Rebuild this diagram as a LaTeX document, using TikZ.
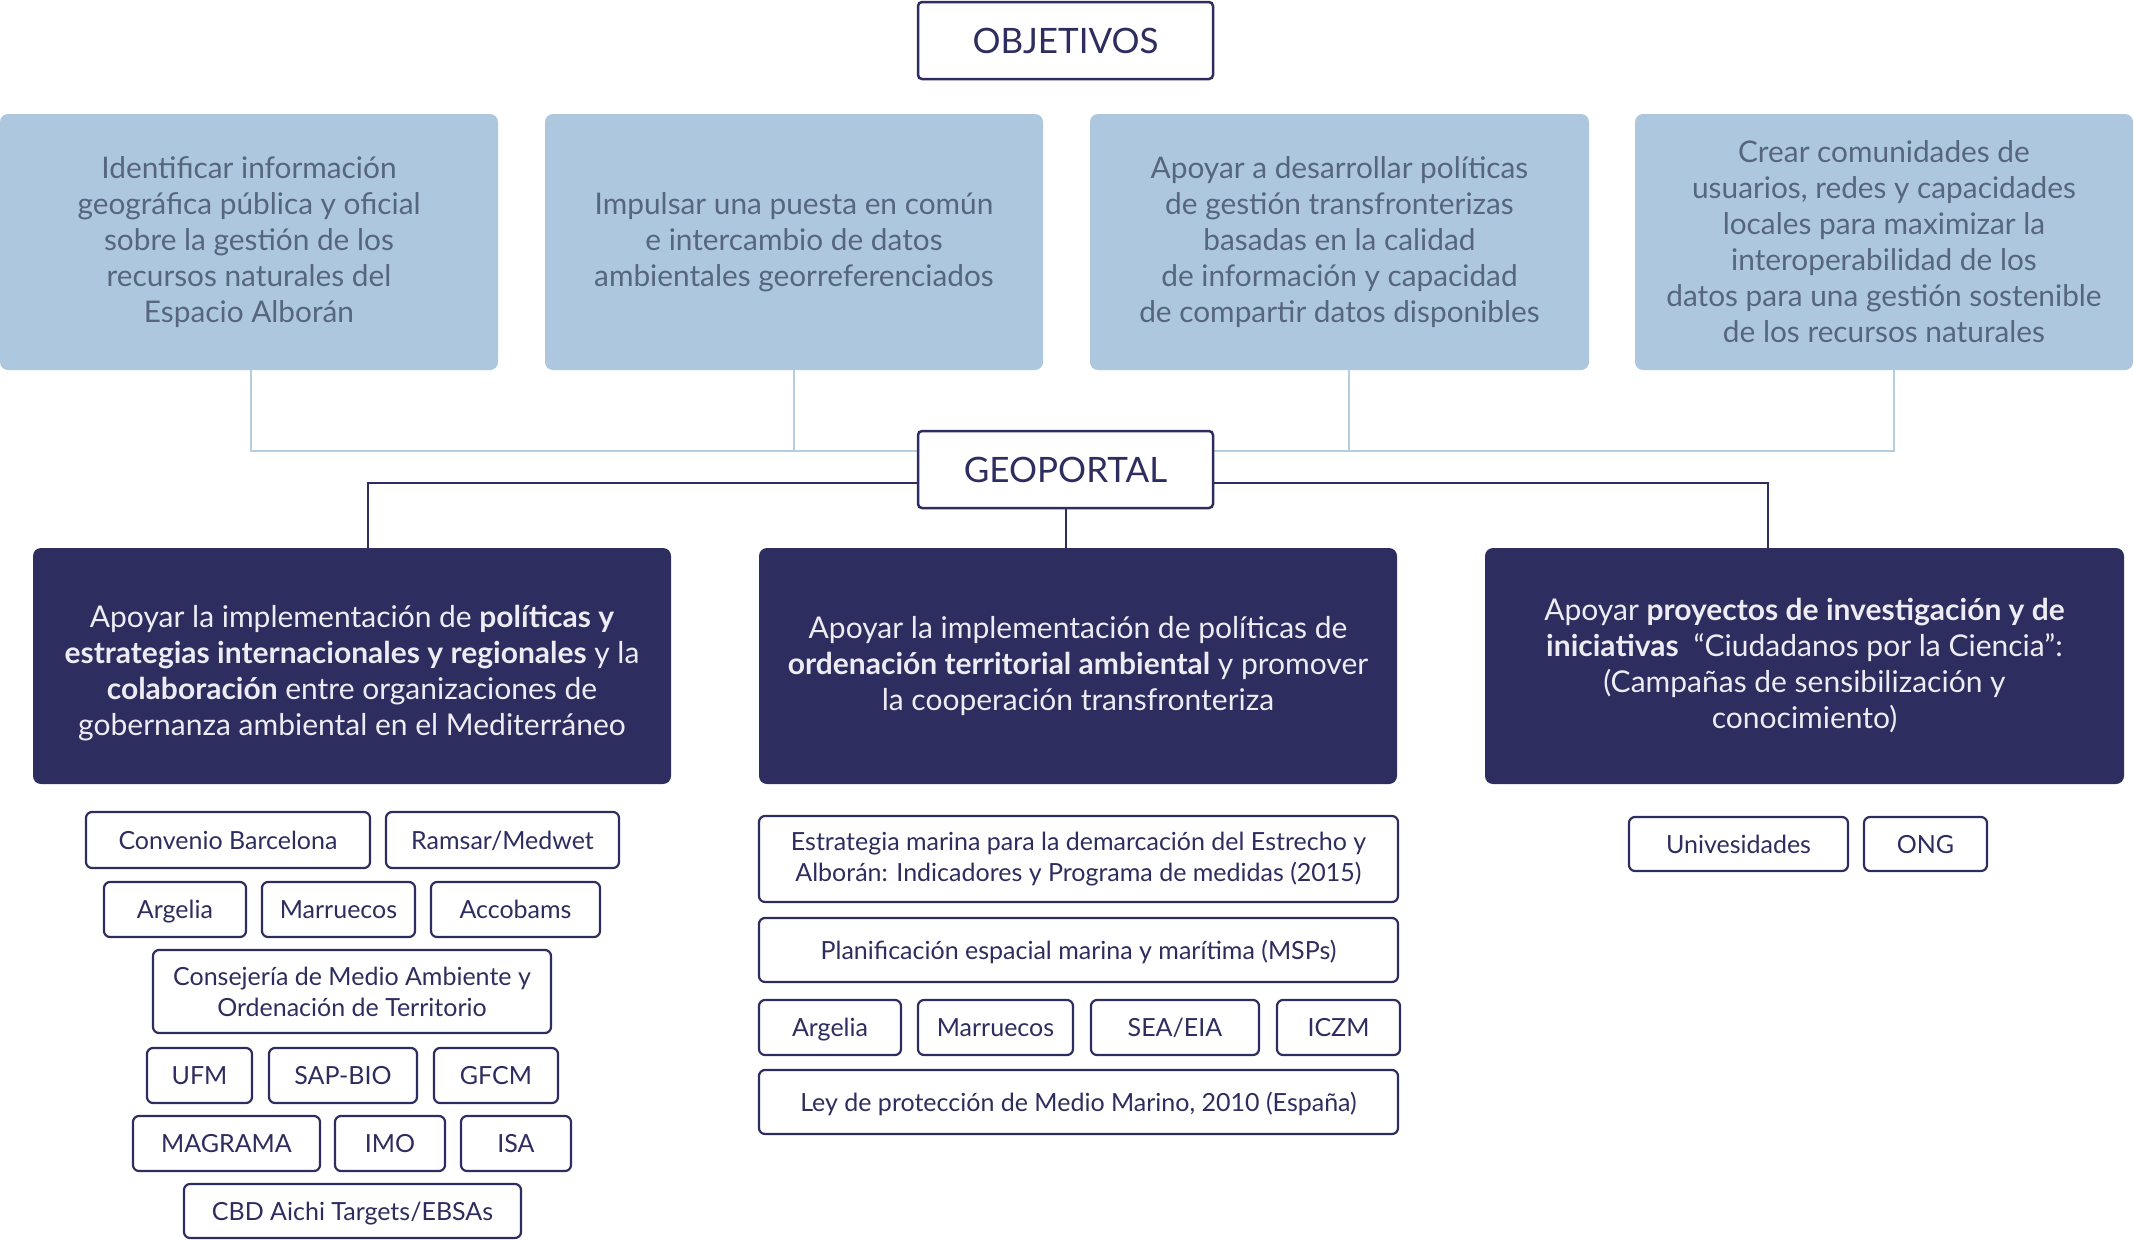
\documentclass[tikz,border=0pt]{standalone}
\usepackage{fontspec}
\setmainfont{Lato}
\definecolor{navy}{HTML}{2E2D5F}
\definecolor{bluefill}{HTML}{ADC7DF}
\definecolor{bluetext}{HTML}{56667C}
\definecolor{lightline}{HTML}{B5CDE0}
\definecolor{darktext}{HTML}{ECECF2}
\newcommand{\bx}[7]{\node[#2, minimum width={#5-#3}, minimum height={#6-#4}] (#1) at ({(#3+#5)/2},{(#4+#6)/2}) {#7};}
\begin{document}
\begin{tikzpicture}[x=1pt,y=-1pt,
  every node/.style={inner sep=0pt, outer sep=0pt, align=center},
  titlebox/.style={draw=navy, line width=2.5pt, rounded corners=4pt, fill=white, text=navy, font=\fontsize{35}{42}\selectfont},
  objbox/.style={fill=bluefill, rounded corners=8pt, text=bluetext, font=\fontsize{29.8}{36}\selectfont},
  darkbox/.style={fill=navy, rounded corners=8pt, text=darktext, font=\fontsize{30}{36}\selectfont},
  darktxt/.style={text=darktext, font=\fontsize{30}{36}\selectfont},
  tagbox/.style={draw=navy, line width=2.2pt, rounded corners=6pt, fill=white, text=navy, font=\fontsize{25}{31}\selectfont},
  tag/.style={tagbox, text height=24pt, text depth=6pt},
  lightconn/.style={draw=lightline, line width=2.5pt},
  darkconn/.style={draw=navy, line width=2pt}]
\useasboundingbox (0,0) rectangle (2134,1240);
% connectors (behind boxes)
\coordinate (hl) at (0,451);
\coordinate (dl) at (0,483);
\coordinate (b1x) at (251,114);
\coordinate (b2x) at (794,114);
\coordinate (b3x) at (1349,114);
\coordinate (b4x) at (1894,114);
% objective boxes
\bx{b1}{objbox}{0}{114}{498}{370}{Identificar información\\geográfica pública y oficial\\sobre la gestión de los\\recursos naturales del\\Espacio Alborán}
\bx{b2}{objbox}{545}{114}{1043}{370}{Impulsar una puesta en común\\e intercambio de datos\\ambientales georreferenciados}
\bx{b3}{objbox}{1090}{114}{1589}{370}{Apoyar a desarrollar políticas\\de gestión transfronterizas\\basadas en la calidad\\de información y capacidad\\de compartir datos disponibles}
\bx{b4}{objbox}{1635}{114}{2133}{370}{Crear comunidades de\\usuarios, redes y capacidades\\locales para maximizar la\\interoperabilidad de los\\datos para una gestión sostenible\\de los recursos naturales}
\bx{obj}{titlebox}{918}{2}{1213}{79}{OBJETIVOS}
% dark boxes
\bx{d1}{darkbox}{33}{548}{671}{784}{}
\node[darktxt] (d1t) at ([yshift=-7pt]d1.center) {Apoyar la implementación de \textbf{políticas y}\\\textbf{estrategias internacionales y regionales} y la\\\textbf{colaboración} entre organizaciones de\\gobernanza ambiental en el Mediterráneo};
\bx{d2}{darkbox}{759}{548}{1397}{784}{Apoyar la implementación de políticas de\\\textbf{ordenación territorial ambiental} y promover\\la cooperación transfronteriza}
\bx{d3}{darkbox}{1485}{548}{2124}{784}{Apoyar \textbf{proyectos de investigación y de}\\\textbf{iniciativas}\enspace“Ciudadanos por la Ciencia”:\\(Campañas de sensibilización y\\conocimiento)}
% connector lines
\coordinate (geoL) at (917,451);
\coordinate (geoR) at (1214,451);
\draw[lightconn] (b1.south -| b1x) |- (geoL);
\draw[lightconn] (b2.south -| b2x) -- (b2x |- hl);
\draw[lightconn] (b3.south -| b3x) -- (b3x |- hl);
\draw[lightconn] (b4.south -| b4x) |- (geoR);
\coordinate (d1x) at (368,548);
\coordinate (d3x) at (1768,548);
\coordinate (geoDL) at (917,483);
\coordinate (geoDR) at (1214,483);
\draw[darkconn] (geoDL) -| (d1x);
\draw[darkconn] (geoDR) -| (d3x);
\bx{geo}{titlebox}{918}{431}{1213}{508}{GEOPORTAL}
\draw[darkconn] (geo.south) -- (geo.south |- d2.north);
% left tags
\bx{t1}{tag}{86}{812}{370}{868}{Convenio Barcelona}
\bx{t2}{tag}{386}{812}{619}{868}{Ramsar/Medwet}
\bx{t3}{tag}{104}{882}{246}{937}{Argelia}
\bx{t4}{tag}{262}{882}{415}{937}{Marruecos}
\bx{t5}{tag}{431}{882}{600}{937}{Accobams}
\bx{t6}{tagbox}{153}{950}{551}{1033}{Consejería de Medio Ambiente y\\Ordenación de Territorio}
\bx{t7}{tag}{147}{1048}{252}{1103}{UFM}
\bx{t8}{tag}{269}{1048}{417}{1103}{SAP-BIO}
\bx{t9}{tag}{434}{1048}{558}{1103}{GFCM}
\bx{t10}{tag}{133}{1116}{320}{1171}{MAGRAMA}
\bx{t11}{tag}{335}{1116}{445}{1171}{IMO}
\bx{t12}{tag}{461}{1116}{571}{1171}{ISA}
\bx{t13}{tag}{184}{1184}{521}{1238}{CBD Aichi Targets/EBSAs}
% middle tags
\bx{m1}{tagbox}{759}{816}{1398}{902}{Estrategia marina para la demarcación del Estrecho y\\Alborán: Indicadores y Programa de medidas (2015)}
\bx{m2}{tag}{759}{918}{1398}{982}{Planificación espacial marina y marítima (MSPs)}
\bx{m3}{tag}{759}{1000}{901}{1055}{Argelia}
\bx{m4}{tag}{918}{1000}{1073}{1055}{Marruecos}
\bx{m5}{tag}{1091}{1000}{1259}{1055}{SEA/EIA}
\bx{m6}{tag}{1277}{1000}{1400}{1055}{ICZM}
\bx{m7}{tag}{759}{1070}{1398}{1134}{Ley de protección de Medio Marino, 2010 (España)}
% right tags
\bx{r1}{tag}{1629}{817}{1848}{871}{Univesidades}
\bx{r2}{tag}{1864}{817}{1987}{871}{ONG}
\end{tikzpicture}
\end{document}
